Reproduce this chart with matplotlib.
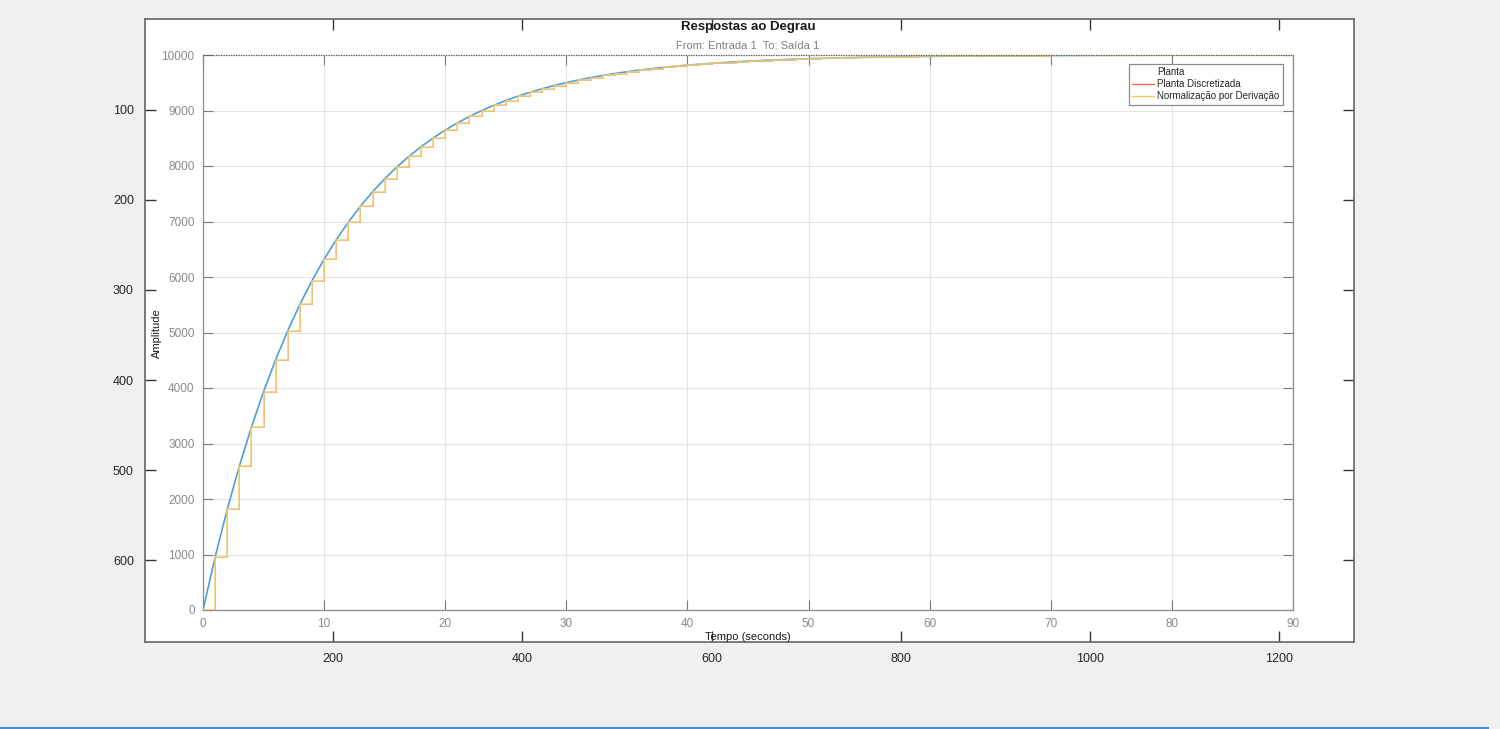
import matplotlib
matplotlib.use("Agg")
import matplotlib.pyplot as plt
from matplotlib.lines import Line2D
import numpy as np

plt.rcParams['font.family'] = ['Liberation Sans', 'DejaVu Sans']

# ---- data ----
tempo = list(range(0, 91))
amplitude = [
    0, 952, 1813, 2592, 3297, 3935, 4512, 5034, 5507, 5934,
    6321, 6671, 6988, 7275, 7534, 7769, 7981, 8173, 8347, 8504,
    8647, 8775, 8892, 8997, 9093, 9179, 9257, 9328, 9392, 9450,
    9502, 9550, 9592, 9631, 9666, 9698, 9727, 9753, 9776, 9798,
    9817, 9834, 9850, 9864, 9877, 9889, 9899, 9909, 9918, 9926,
    9933, 9939, 9945, 9950, 9955, 9959, 9963, 9967, 9970, 9973,
    9975, 9978, 9980, 9982, 9983, 9985, 9986, 9988, 9989, 9990,
    9991, 9992, 9993, 9993, 9994, 9994, 9995, 9995, 9996, 9996,
    9997, 9997, 9997, 9998, 9998, 9998, 9998, 9998, 9998, 9999, 9999,
]
regime = 10000
inner_xticks = [0, 10, 20, 30, 40, 50, 60, 70, 80, 90]
inner_yticks = [0, 1000, 2000, 3000, 4000, 5000, 6000, 7000, 8000, 9000, 10000]
outer_xticks = [200, 400, 600, 800, 1000, 1200]
outer_yticks = [100, 200, 300, 400, 500, 600]
legend_labels = ["Planta", "Planta Discretizada", "Normalização por Derivação"]

W, H = 1500, 729
fig = plt.figure(figsize=(15, 7.29), dpi=100)
fig.patch.set_facecolor('#f0f0f0')

def rect(l, t, r, b):
    return [l / W, (H - b) / H, (r - l) / W, (b - t) / H]

# ---- outer axes ----
axo = fig.add_axes(rect(145, 19, 1354, 642))
axo.set_facecolor('white')
axo.set_xlim(1.3, 1279)
axo.set_ylim(691, -1)
axo.set_xticks(outer_xticks)
axo.set_yticks(outer_yticks)
axo.tick_params(direction='in', length=8, width=1.0, color='#333333',
                labelsize=9, labelcolor='#262626', top=True, right=True,
                pad=8)
for s in axo.spines.values():
    s.set_color('#6f6f6f')
    s.set_linewidth(1.3)

# ---- inner axes ----
ax = fig.add_axes(rect(203, 55, 1293, 610))
ax.set_facecolor('white')
ax.set_xlim(0, 90)
ax.set_ylim(0, 10000)
ax.set_xticks(inner_xticks)
ax.set_yticks(inner_yticks)
ax.grid(True, color='#e3e3e3', linewidth=0.8)
ax.set_axisbelow(True)
ax.tick_params(direction='in', length=7, width=0.8, color='#7a7a7a',
               labelsize=8.5, labelcolor='#8a8a8a', top=True, right=True, pad=6)
for s in ax.spines.values():
    s.set_color('#8c8c8c')
    s.set_linewidth(0.9)
ax.spines['top'].set_visible(False)

l1, = ax.step(tempo, amplitude, where='post', color='#e0705a', lw=0.5, zorder=2)
l0, = ax.plot(tempo, amplitude, color='#4f9fda', lw=1.2, zorder=3)
l2, = ax.step(tempo, amplitude, where='post', color='#f5cd6e', lw=1.1, zorder=4)
ax.axhline(regime, color='#555555', lw=0.9, linestyle=(0, (1, 1)), zorder=5,
           clip_on=False)

fig.text(748 / W, 1 - 27 / H, "Respostas ao Degrau", ha='center', va='center',
         fontsize=9.5, fontweight='bold', color='#1a1a1a')
fig.text(748 / W, 1 - 46 / H, "From: Entrada 1  To: Saída 1", ha='center',
         va='center', fontsize=8, color='#808080')
fig.text(748 / W, 1 - 637 / H, "Tempo (seconds)", ha='center', va='center',
         fontsize=8, color='#1a1a1a')
fig.text(157 / W, 1 - 333 / H, "Amplitude", ha='center', va='center',
         fontsize=8, color='#1a1a1a', rotation=90)

handles = [Line2D([], [], color='white', lw=1.2), Line2D([], [], color='#e0705a', lw=1.0),
           Line2D([], [], color='#f3c762', lw=1.0)]
leg = ax.legend(handles, legend_labels, loc='upper right',
                bbox_to_anchor=(1283 / W, 1 - 64 / H), bbox_transform=fig.transFigure,
                fontsize=7, frameon=True, fancybox=False, framealpha=1,
                edgecolor='#8c8c8c', handlelength=2.3, handletextpad=0.3,
                borderpad=0.35, labelspacing=0.2, borderaxespad=0)
leg.get_frame().set_linewidth(0.9)
for t in leg.get_texts():
    t.set_color('#262626')

fig.add_artist(Line2D([0, 1488 / W], [1.5 / H, 1.5 / H], color='#4a8fd8', lw=1.5,
                      transform=fig.transFigure))

fig.savefig('out.png', dpi=100, facecolor=fig.get_facecolor())
